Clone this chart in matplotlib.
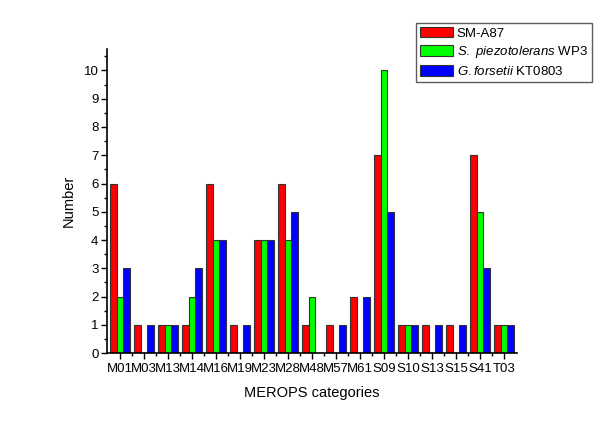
import matplotlib
matplotlib.use("Agg")
import matplotlib.pyplot as plt
from matplotlib.ticker import MultipleLocator, FixedLocator
import numpy as np

plt.rcParams['font.family'] = ['Liberation Sans', 'DejaVu Sans']
plt.rcParams['mathtext.fontset'] = 'custom'
plt.rcParams['mathtext.rm'] = 'Liberation Sans'
plt.rcParams['mathtext.it'] = 'Liberation Sans:italic'

categories = ["M01", "M03", "M13", "M14", "M16", "M19", "M23", "M28", "M48",
              "M57", "M61", "S09", "S10", "S13", "S15", "S41", "T03"]
sm_a87 = [6, 1, 1, 1, 6, 1, 4, 6, 1, 1, 2, 7, 1, 1, 1, 7, 1]
s_piezo = [2, 0, 1, 2, 4, 0, 4, 4, 2, 0, 0, 10, 1, 0, 0, 5, 1]
g_forsetii = [3, 1, 1, 3, 4, 1, 4, 5, 0, 1, 2, 5, 1, 1, 1, 3, 1]

series = [
    (sm_a87, "#ff0000", "SM-A87"),
    (s_piezo, "#00ff00", r"$\it{S.}$ $\it{piezotolerans}$ WP3"),
    (g_forsetii, "#0000ff", r"$\it{G.forsetii}$ KT0803"),
]

fig = plt.figure(figsize=(6.0, 4.24), dpi=100)
ax = fig.add_axes([0.178, 0.167, 0.684, 0.717])

x = np.arange(len(categories))
w = 0.27
handles = []
for i, (vals, col, lab) in enumerate(series):
    vals_arr = np.array(vals, dtype=float)
    h = ax.bar(x + (i - 1) * w, vals_arr, width=w, color=col, edgecolor="#333333",
               linewidth=0.8, label=lab)
    handles.append(h)

ax.set_xlim(-0.55, 16.55)
ax.set_ylim(0, 10.75)
ax.set_xticks(x)
ax.set_xticklabels(categories, fontsize=9.5)
ax.xaxis.set_minor_locator(FixedLocator(x[:-1] + 0.5))
ax.yaxis.set_major_locator(MultipleLocator(1))
ax.yaxis.set_minor_locator(MultipleLocator(0.5))
ax.tick_params(axis='both', which='major', direction='out', length=4, width=1, labelsize=9.5, pad=2)
ax.tick_params(axis='both', which='minor', direction='out', length=2.5, width=1)
ax.tick_params(axis='x', which='major', pad=3)
for s in ["top", "right"]:
    ax.spines[s].set_visible(False)
for s in ["left", "bottom"]:
    ax.spines[s].set_linewidth(1.2)

ax.set_xlabel("MEROPS categories", fontsize=10.5, labelpad=8)
ax.set_ylabel("Number", fontsize=10.5, labelpad=6)

leg = fig.legend(handles=handles, loc="upper left", bbox_to_anchor=(0.693, 0.946),
                 fontsize=9.5, frameon=True, fancybox=False, edgecolor="#333333",
                 handlelength=2.5, handleheight=0.85, handletextpad=0.3,
                 borderpad=0.3, labelspacing=0.35, borderaxespad=0)
leg.get_frame().set_linewidth(1.0)

fig.savefig("out.png", dpi=100)
